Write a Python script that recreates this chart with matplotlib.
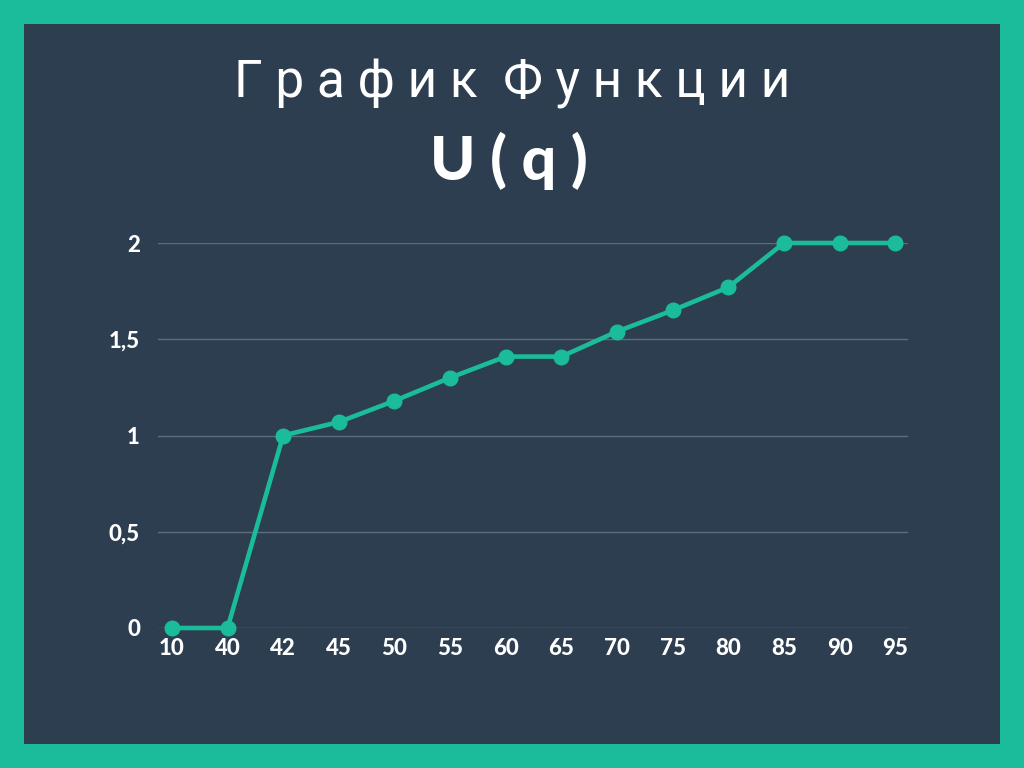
import matplotlib
matplotlib.use("Agg")
import matplotlib.pyplot as plt
from matplotlib.patches import Rectangle

# data
categories = ["10", "40", "42", "45", "50", "55", "60", "65", "70", "75", "80", "85", "90", "95"]
u_values = [0, 0, 1.0, 1.07, 1.18, 1.30, 1.41, 1.41, 1.54, 1.65, 1.77, 2.0, 2.0, 2.0]
y_ticks = [0, 0.5, 1, 1.5, 2]
y_tick_labels = ["0", "0,5", "1", "1,5", "2"]

TEAL = "#1abc9c"
NAVY = "#2c3e50"
GRID = "#5d6d7e"

fig = plt.figure(figsize=(10.24, 7.68), dpi=100, facecolor=TEAL)
fig.patches.append(
    Rectangle((24 / 1024, 24 / 768), 976 / 1024, 720 / 768,
              transform=fig.transFigure, facecolor=NAVY, edgecolor="none", zorder=-5)
)

ax = fig.add_axes([158 / 1024, 1 - 628 / 768, 750 / 1024, 385 / 768])
ax.set_zorder(2)
ax.set_facecolor("none")

x = list(range(len(categories)))
ax.plot(x, u_values, color=TEAL, linewidth=3.3, marker="o", markersize=10.5,
        clip_on=False, zorder=3)

ax.set_xlim(-0.25, len(categories) - 0.77)
ax.set_ylim(0, 2)
ax.set_yticks(y_ticks, y_tick_labels)
ax.set_xticks(x, categories)
ax.grid(True, axis="y", color=GRID, linewidth=1.0)
ax.tick_params(length=0, labelcolor="white", labelsize=16)
ax.tick_params(axis="y", pad=13)
ax.tick_params(axis="x", pad=7)
for lab in ax.get_xticklabels() + ax.get_yticklabels():
    lab.set_fontfamily("Lato")
    lab.set_fontweight("black")
for s in ax.spines.values():
    s.set_visible(False)

fig.text(0.5, 1 - 84 / 768, "Г р а ф и к  Ф у н к ц и и", color="white",
         fontsize=37, family="Roboto", fontweight="normal", ha="center", va="center")
fig.text(0.497, 1 - 161 / 768, "U ( q )", color="white", fontsize=44,
         family="Lato", fontweight="black", ha="center", va="center")

fig.savefig("out.png", dpi=100, facecolor=TEAL)
